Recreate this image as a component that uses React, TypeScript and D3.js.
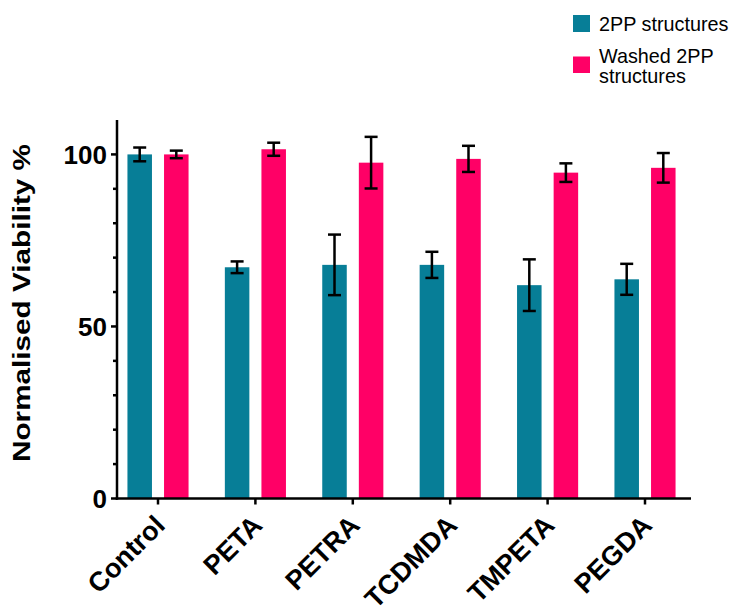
import React from "react";
import * as d3 from "d3";

// Cell viability after 2PP fabrication, per resin
const categories = ["Control", "PETA", "PETRA", "TCDMDA", "TMPETA", "PEGDA"];
const seriesNames = ["2PP structures", "Washed 2PP structures"];
const unwashedMean = [100, 67.2, 67.9, 67.9, 62.0, 63.7];
const unwashedErr = [2.0, 1.7, 8.8, 3.8, 7.5, 4.5];
const washedMean = [100, 101.5, 97.6, 98.7, 94.7, 96.1];
const washedErr = [1.1, 1.9, 7.5, 3.8, 2.7, 4.3];
const yMajorTicks = [0, 50, 100];
const yMinorTicks = [10, 20, 30, 40, 60, 70, 80, 90];

const COLORS = ["#077e97", "#ff0066"];
const FONT = "'Liberation Sans', Arial, Helvetica, sans-serif";

export default function App() {
  const width = 734;
  const height = 610;

  const y = d3.scaleLinear().domain([0, 110]).range([498.5, 120]);
  const x = d3.scaleBand<string>().domain(categories).range([109.3, 693.7]).padding(0);
  const xs = d3
    .scaleBand<string>()
    .domain(seriesNames)
    .range([0, x.bandwidth()])
    .paddingInner(0.33)
    .paddingOuter(0.496);

  const series = [
    { name: seriesNames[0], mean: unwashedMean, err: unwashedErr, color: COLORS[0] },
    { name: seriesNames[1], mean: washedMean, err: washedErr, color: COLORS[1] },
  ];

  const axisX0 = 117;
  const axisX1 = 691;
  const y0 = y(0);
  const capHalf = 6.5;

  return (
    <svg width={width} height={height} style={{ position: "absolute", left: 0, top: 0 }}>
      <rect width={width} height={height} fill="#fff" />

      {/* bars */}
      {series.map((s) =>
        categories.map((c, i) => {
          const bx = (x(c) as number) + (xs(s.name) as number);
          return (
            <rect
              key={s.name + c}
              x={bx}
              y={y(s.mean[i])}
              width={xs.bandwidth()}
              height={y0 - y(s.mean[i])}
              fill={s.color}
            />
          );
        })
      )}

      {/* error bars */}
      {series.map((s) =>
        categories.map((c, i) => {
          const cx = (x(c) as number) + (xs(s.name) as number) + xs.bandwidth() / 2;
          const hi = y(s.mean[i] + s.err[i]);
          const lo = y(s.mean[i] - s.err[i]);
          return (
            <g key={"e" + s.name + c} stroke="#000" strokeWidth={2.5} fill="none">
              <line x1={cx} x2={cx} y1={hi} y2={lo} />
              <line x1={cx - capHalf} x2={cx + capHalf} y1={hi} y2={hi} />
              <line x1={cx - capHalf} x2={cx + capHalf} y1={lo} y2={lo} />
            </g>
          );
        })
      )}

      {/* y axis */}
      <g stroke="#000" strokeWidth={2.5}>
        <line x1={axisX0} x2={axisX0} y1={y(110)} y2={y0 + 1.25} />
        {yMajorTicks.map((t) => (
          <line key={"M" + t} x1={axisX0 - 6} x2={axisX0} y1={y(t)} y2={y(t)} />
        ))}
        {yMinorTicks.map((t) => (
          <line key={"m" + t} x1={axisX0 - 4} x2={axisX0} y1={y(t)} y2={y(t)} />
        ))}
      </g>
      {yMajorTicks.map((t) => (
        <text
          key={"l" + t}
          x={107}
          y={y(t)}
          dy="0.37em"
          textAnchor="end"
          fontFamily={FONT}
          fontWeight="bold"
          fontSize={26}
          fill="#000"
        >
          {t}
        </text>
      ))}
      <text
        transform={`translate(29.5, 303) rotate(-90)`}
        textAnchor="middle"
        fontFamily={FONT}
        fontWeight="bold"
        fontSize={24}
        textLength={318}
        lengthAdjust="spacingAndGlyphs"
        fill="#000"
      >
        Normalised Viability %
      </text>

      {/* x axis */}
      <g stroke="#000" strokeWidth={2.5}>
        <line x1={axisX0 - 1.25} x2={axisX1} y1={y0} y2={y0} />
        {categories.map((c) => {
          const cx = (x(c) as number) + x.bandwidth() / 2;
          return <line key={"t" + c} x1={cx} x2={cx} y1={y0} y2={y0 + 6} />;
        })}
      </g>
      {categories.map((c) => {
        const cx = (x(c) as number) + x.bandwidth() / 2;
        return (
          <text
            key={"x" + c}
            transform={`translate(${cx + 8.5}, 527) rotate(-45)`}
            textAnchor="end"
            fontFamily={FONT}
            fontWeight="bold"
            fontSize={27}
            fill="#000"
          >
            {c}
          </text>
        );
      })}

      {/* legend */}
      <rect x={573} y={15} width={17} height={17} fill={COLORS[0]} />
      <text x={599} y={31} fontFamily={FONT} fontSize={19.8} fill="#000">
        2PP structures
      </text>
      <rect x={573} y={56.5} width={17} height={16.5} fill={COLORS[1]} />
      <text x={599} y={63} fontFamily={FONT} fontSize={19.8} fill="#000">
        <tspan x={599}>Washed 2PP</tspan>
        <tspan x={599} dy={20}>structures</tspan>
      </text>
    </svg>
  );
}
